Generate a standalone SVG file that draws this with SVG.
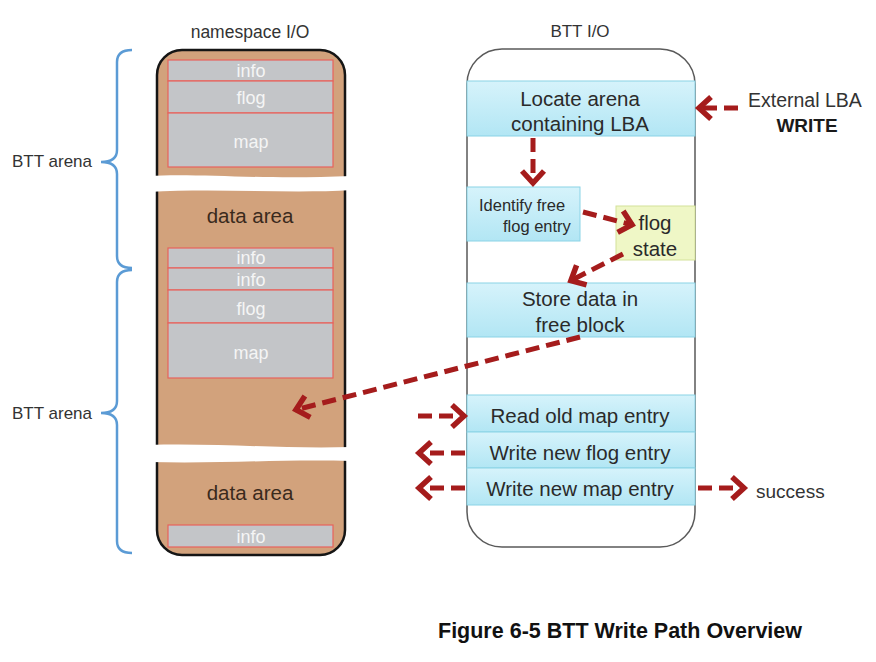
<svg xmlns="http://www.w3.org/2000/svg" width="876" height="662" viewBox="0 0 876 662">
<defs>
<linearGradient id="cyan" x1="0" y1="0" x2="0" y2="1">
<stop offset="0" stop-color="#d6f3fb"/>
<stop offset="1" stop-color="#b2e6f4"/>
</linearGradient>
<marker id="chev" markerUnits="userSpaceOnUse" viewBox="-20 -15 30 30" markerWidth="30" markerHeight="30" refX="0" refY="0" orient="auto">
<path d="M-13,-11 L-1,0 L-13,11" fill="none" stroke="#a51c1c" stroke-width="5.5" stroke-linejoin="miter"/>
</marker>
</defs>
<style>
text{font-family:"Liberation Sans",Arial,sans-serif;}
.lbl{fill:#333;}
.gray{fill:#c3c5c8;stroke:#e8625c;stroke-width:1.2;}
.wt{fill:#f5f5f5;font-size:18px;text-anchor:middle;}
.da{fill:#3a2a1c;font-size:20.5px;text-anchor:middle;}
.cy{fill:url(#cyan);stroke:#8ad3e6;stroke-width:1;}
.bt{fill:#2a2a2a;font-size:20.5px;text-anchor:middle;}
.brace{fill:none;stroke:#5b9bd5;stroke-width:2.5;}
.arr{fill:none;stroke:#a51c1c;stroke-width:5;stroke-dasharray:14 7;marker-end:url(#chev);}
</style>
<rect width="876" height="662" fill="#ffffff"/>

<g id="titles">
<text x="250" y="38" class="lbl" font-size="17.5" text-anchor="middle">namespace I/O</text>
<text x="580" y="37" class="lbl" font-size="17" text-anchor="middle">BTT I/O</text>
</g>

<g id="braces">
<path class="brace" d="M132,50 C122,50 117,54 117,62 L117,150 C117,158 112,162 101,162 C112,162 117,166 117,174 L117,256 C117,264 122,268 132,268"/>
<path class="brace" d="M132,270 C122,270 117,274 117,282 L117,401 C117,409 112,413 101,413 C112,413 117,417 117,425 L117,541 C117,549 122,553 132,553"/>
<text x="12" y="167" class="lbl" font-size="17">BTT arena</text>
<text x="12" y="419" class="lbl" font-size="17">BTT arena</text>
</g>

<g id="namespace">
<rect x="157" y="50" width="188" height="505" rx="25" ry="25" fill="#d2a27c" stroke="#151515" stroke-width="2.5"/>
<rect class="gray" x="168" y="60" width="165" height="21"/>
<rect class="gray" x="168" y="81" width="165" height="32"/>
<rect class="gray" x="168" y="113" width="165" height="54"/>
<rect class="gray" x="168" y="248" width="165" height="20"/>
<rect class="gray" x="168" y="268" width="165" height="22"/>
<rect class="gray" x="168" y="290" width="165" height="33"/>
<rect class="gray" x="168" y="323" width="165" height="55"/>
<rect class="gray" x="168" y="525" width="165" height="22"/>
<path d="M148,176 C200,173 260,180 352,176 L352,190 C290,194 220,188 148,192 Z" fill="#ffffff"/>
<path d="M148,445 C220,443 280,449 352,447 L352,461 C280,459 220,464 148,462 Z" fill="#ffffff"/>
<text x="251" y="77" class="wt">info</text>
<text x="251" y="104" class="wt">flog</text>
<text x="251" y="148" class="wt">map</text>
<text x="250" y="223" class="da">data area</text>
<text x="251" y="264" class="wt">info</text>
<text x="251" y="286" class="wt">info</text>
<text x="251" y="315" class="wt">flog</text>
<text x="251" y="359" class="wt">map</text>
<text x="250" y="500" class="da">data area</text>
<text x="251" y="543" class="wt">info</text>
</g>

<g id="btt">
<rect x="467" y="49" width="228" height="498" rx="35" ry="35" fill="#ffffff" stroke="#5a5a5a" stroke-width="1.5"/>
</g>

<g id="locate">
<rect class="cy" x="467" y="81" width="228" height="55"/>
<text x="580" y="106" class="bt" font-size="20">Locate arena</text>
<text x="580" y="131" class="bt" font-size="20">containing LBA</text>
</g>

<g id="identify">
<rect class="cy" x="467" y="187" width="113" height="54"/>
<text x="479" y="211" fill="#2a2a2a" font-size="16.5">Identify free</text>
<text x="503" y="232" fill="#2a2a2a" font-size="16.5">flog entry</text>
</g>

<g id="flogstate">
<rect x="616" y="206" width="79" height="54" fill="#eff7c6" stroke="#d4e29a" stroke-width="1"/>
<text x="655" y="230" class="bt" font-size="21">flog</text>
<text x="655" y="256" class="bt" font-size="21">state</text>
</g>

<g id="store">
<rect class="cy" x="467" y="283" width="228" height="54"/>
<text x="580" y="306" class="bt">Store data in</text>
<text x="580" y="332" class="bt">free block</text>
</g>

<g id="readmap">
<rect class="cy" x="467" y="395" width="228" height="37"/>
<text x="580" y="423" class="bt">Read old map entry</text>
</g>

<g id="writeflog">
<rect class="cy" x="467" y="432" width="228" height="36"/>
<text x="580" y="460" class="bt" font-size="21">Write new flog entry</text>
</g>

<g id="writemap">
<rect class="cy" x="467" y="468" width="228" height="37"/>
<text x="580" y="496" class="bt" font-size="21">Write new map entry</text>
</g>

<g id="external">
<text x="748" y="107" class="lbl" font-size="19.5">External LBA</text>
<text x="807" y="132" fill="#1a1a1a" font-size="19" font-weight="bold" text-anchor="middle">WRITE</text>
</g>

<g id="success">
<text x="756" y="498" class="lbl" font-size="19">success</text>
</g>

<g id="connectors">
<path class="arr" d="M738,108 L698,108"/>
<path class="arr" d="M533,138 L533,184"/>
<path class="arr" d="M583,212 L633,225"/>
<path class="arr" d="M623,254 L570,281"/>
<path class="arr" d="M580,337 L295,410"/>
<path class="arr" d="M418,416 L465,416"/>
<path class="arr" d="M465,453 L418,453"/>
<path class="arr" d="M465,488 L418,488"/>
<path class="arr" d="M698,488 L745,488"/>
</g>

<g id="caption">
<text x="438" y="638" fill="#111" font-size="21.5" font-weight="bold">Figure 6-5 BTT Write Path Overview</text>
</g>
</svg>
